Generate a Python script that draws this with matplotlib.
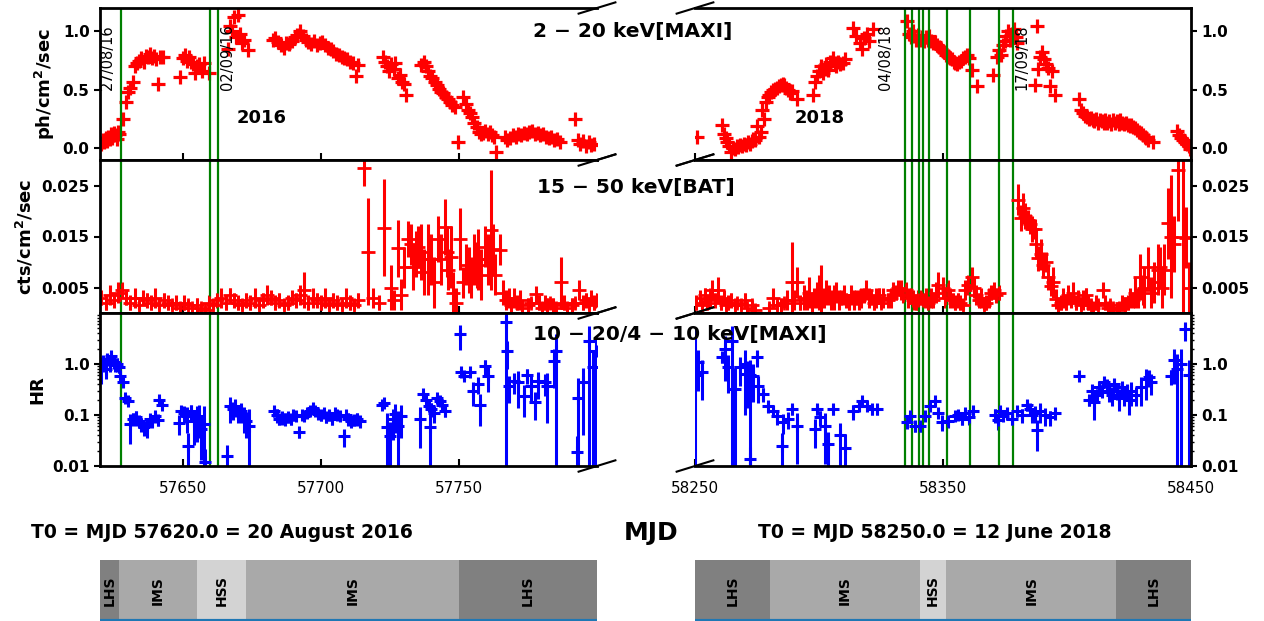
import numpy as np
import matplotlib.pyplot as plt

plt.rcParams['font.family'] = 'DejaVu Sans'
plt.rcParams['mathtext.default'] = 'regular'

T0_16 = 57620.0
T0_18 = 58250.0

# ---------- MAXI 2-20 keV flux (days since T0, ph/cm2/s) ----------
maxi16_t = [0.5, 1.0, 1.5, 2.0, 2.5, 3.0, 3.5, 4.0, 4.5, 5.0, 5.5, 6.0, 6.5, 7.0, 8.4, 9.4, 10.3, 11.0, 12.0, 12.7,
            13.5, 14.2, 15.0, 15.8, 16.5, 17.3, 18.0, 18.8, 19.5, 20.2, 21.0, 21.8, 22.9,
            29.0, 30.0, 30.8, 31.5, 32.3, 33.0, 33.8, 34.5, 35.3, 36.0, 36.8, 37.5, 39.4,
            46.5, 47.0, 47.8, 48.5, 49.2, 50.0, 50.8, 51.5, 52.3, 53.5,
            62.5, 63.5, 64.5, 65.5, 66.5, 67.5, 68.5, 69.5, 70.5, 71.5, 72.5, 73.5, 74.5, 75.5, 76.5, 77.5,
            78.5, 79.5, 80.5, 81.5, 82.5, 83.5, 84.5, 85.5, 86.5, 87.5, 88.5, 89.5, 90.5, 91.5, 92.7, 93.5,
            102.5, 103.3, 104.0, 104.8, 105.5, 106.3, 107.0, 107.8, 108.5, 109.3, 110.0, 111.0,
            116.4, 117.2, 118.0, 118.8, 119.6, 120.4, 121.2, 122.0, 122.8, 123.6, 124.4, 125.2, 126.0, 126.8,
            127.6, 128.4, 129.8, 131.6, 132.4, 133.2, 134.0, 134.8, 135.6, 136.4, 137.2, 138.0, 138.8, 139.6,
            140.4, 141.2, 142.0, 142.8, 143.6,
            146.5, 147.5, 148.5, 149.5, 150.5, 151.5, 152.5, 153.5, 154.5, 155.5, 156.5, 157.5, 158.5, 159.5,
            160.5, 161.5, 162.5, 163.5, 164.5, 165.5, 166.5,
            172.0, 173.0, 174.0, 175.0, 176.0, 177.0, 178.0, 179.0]
maxi16_f = [0.04, 0.07, 0.05, 0.09, 0.06, 0.10, 0.08, 0.12, 0.09, 0.13, 0.11, 0.08, 0.14, 0.12, 0.25, 0.40, 0.48, 0.52, 0.57, 0.70,
            0.73, 0.75, 0.77, 0.74, 0.79, 0.78, 0.81, 0.77, 0.79, 0.76, 0.55, 0.78, 0.78,
            0.61, 0.77, 0.80, 0.75, 0.78, 0.74, 0.72, 0.64, 0.70, 0.72, 0.66, 0.73, 0.64,
            0.85, 1.05, 1.00, 1.12, 0.95, 1.14, 0.98, 0.90, 0.93, 0.84,
            0.93, 0.94, 0.91, 0.88, 0.86, 0.90, 0.89, 0.92, 0.95, 0.97, 1.00, 0.96, 0.93, 0.91, 0.89, 0.92,
            0.88, 0.90, 0.91, 0.88, 0.86, 0.85, 0.83, 0.81, 0.80, 0.78, 0.77, 0.76, 0.74, 0.73, 0.62, 0.71,
            0.78, 0.74, 0.70, 0.66, 0.72, 0.68, 0.73, 0.60, 0.63, 0.57, 0.55, 0.46,
            0.71, 0.74, 0.70, 0.66, 0.62, 0.60, 0.57, 0.54, 0.51, 0.48, 0.47, 0.44, 0.42, 0.40,
            0.37, 0.35, 0.05, 0.44, 0.38, 0.33, 0.30, 0.27, 0.22, 0.18, 0.14, 0.12, 0.13, 0.15,
            0.12, 0.14, 0.11, 0.10, -0.03,
            0.10, 0.07, 0.09, 0.11, 0.10, 0.12, 0.11, 0.13, 0.12, 0.14, 0.15, 0.12, 0.13, 0.11,
            0.12, 0.10, 0.09, 0.10, 0.07, 0.08, 0.05,
            0.25, 0.07, 0.04, 0.06, 0.02, 0.05, 0.03, 0.04]

maxi18_t = [1.0, 10.9, 11.5, 12.3, 13.0, 13.8, 14.5, 15.3, 16.0, 16.8, 17.5, 18.3, 19.0, 19.8, 20.5, 21.3, 22.0,
            22.8, 23.5, 24.3, 25.0, 25.8, 26.5, 27.0, 27.8, 28.5, 29.3, 30.0, 30.8, 31.5, 32.3, 33.0, 33.8,
            34.5, 35.3, 36.0, 36.8, 37.5, 38.3, 39.0, 41.0,
            47.6, 48.4, 49.2, 50.0, 50.8, 51.5, 52.3, 53.0, 53.8, 54.5, 55.6, 56.3, 57.0, 57.8, 58.5, 59.7, 60.5,
            63.7, 65.0, 66.5, 67.3, 68.0, 69.4, 70.3, 71.8,
            85.5, 86.2, 87.0, 87.8, 88.5, 89.3, 90.0, 90.8, 91.5, 92.3, 93.0, 93.8, 94.5, 95.3, 96.0, 96.8,
            97.5, 98.3, 99.0, 99.8, 100.5, 101.3, 102.0, 102.8, 103.5, 104.3, 105.0, 105.8, 106.5, 107.3,
            108.0, 108.8, 109.5, 110.3, 111.7, 113.7,
            120.0, 121.8, 122.5, 123.3, 124.0, 124.8, 125.5, 126.3, 127.0, 127.8, 128.5, 129.3, 130.0,
            137.0, 137.9, 138.5, 139.3, 140.0, 140.8, 141.5, 142.3, 143.0, 144.0, 145.0,
            155.0, 155.8, 156.5, 157.3, 158.0, 158.8, 159.5, 160.3, 161.0, 161.8, 162.5, 163.3, 164.0, 164.8,
            165.5, 166.3, 167.0, 167.8, 168.5, 169.3, 170.0, 170.8, 171.5, 172.3, 173.0, 173.8, 174.5, 175.3,
            176.0, 176.8, 177.5, 178.3, 179.0, 179.8, 180.5, 181.3, 182.0, 182.8, 184.7,
            194.4, 195.2, 196.0, 196.8, 197.5, 198.3, 199.0, 199.7]
maxi18_f = [0.10, 0.20, 0.12, 0.09, 0.05, 0.02, -0.03, 0.00, -0.01, 0.02, 0.01, 0.03, 0.02, 0.04, 0.03, 0.05, 0.04,
            0.06, 0.08, 0.07, 0.19, 0.10, 0.14, 0.33, 0.25, 0.40, 0.44, 0.46, 0.48, 0.50, 0.51, 0.52, 0.53,
            0.54, 0.55, 0.54, 0.52, 0.50, 0.47, 0.49, 0.42,
            0.46, 0.57, 0.62, 0.66, 0.70, 0.64, 0.68, 0.72, 0.67, 0.74, 0.77, 0.73, 0.70, 0.74, 0.72, 0.73, 0.76,
            1.03, 0.96, 0.90, 0.85, 0.94, 0.98, 0.92, 1.02,
            1.09, 0.98, 0.95, 1.00, 0.96, 0.93, 0.97, 0.93, 0.95, 0.92, 0.95, 0.93, 0.96, 0.92, 0.90, 0.91,
            0.88, 0.87, 0.85, 0.83, 0.82, 0.80, 0.79, 0.77, 0.76, 0.74, 0.73, 0.72, 0.74, 0.75,
            0.77, 0.78, 0.80, 0.77, 0.67, 0.53,
            0.63, 0.78, 0.84, 0.80, 0.88, 0.92, 0.96, 1.00, 0.93, 0.98, 1.02, 0.95, 0.90,
            0.54, 1.05, 0.68, 0.78, 0.82, 0.76, 0.72, 0.69, 0.53, 0.66, 0.46,
            0.42, 0.33, 0.30, 0.28, 0.27, 0.25, 0.26, 0.24, 0.23, 0.25, 0.22, 0.24, 0.23, 0.22,
            0.24, 0.22, 0.23, 0.21, 0.24, 0.22, 0.23, 0.21, 0.24, 0.22, 0.21, 0.22, 0.20, 0.19,
            0.20, 0.18, 0.17, 0.16, 0.14, 0.13, 0.11, 0.10, 0.09, 0.07, 0.05,
            0.15, 0.11, 0.09, 0.07, 0.05, 0.04, 0.02, -0.01]

# ---------- BAT 15-50 keV rate (days since T0, cts/cm2/s, error) ----------
bat16_t = [0.5, 2.0, 3.5, 5.0, 6.5, 8.0, 9.5, 11.0, 12.5, 14.0, 15.5, 17.0, 18.5, 20.0, 21.5, 23.0, 24.5, 26.0,
           27.5, 29.0, 30.5, 32.0, 33.5, 35.0, 36.5, 38.0, 39.5, 41.0, 42.5, 44.0, 45.5, 47.0, 48.5, 50.0,
           51.5, 53.0, 54.5, 56.0, 57.5, 59.0, 60.5, 62.0, 63.5, 65.0, 66.5, 68.0, 69.5, 71.0, 72.5, 74.0,
           75.5, 77.0, 78.5, 80.0, 81.5, 83.0, 84.5, 86.0, 87.5, 89.0, 90.5, 92.0, 93.5,
           95.5, 97.0, 99.0, 101.0, 103.0,
           105.5, 106.5, 107.9, 109.0, 110.0, 111.5, 112.5, 113.5, 114.5, 115.2, 116.4, 117.5, 118.8, 120.0,
           121.0, 122.4, 123.5, 124.8, 125.5, 126.0, 127.0, 128.0, 129.0, 130.3, 131.5, 132.5, 133.5, 134.5,
           135.5, 136.5, 137.0, 138.0, 139.4, 140.5, 141.6, 142.5, 143.0, 144.8,
           146.0, 147.0, 148.0, 149.0, 150.0, 151.0, 152.0, 153.0, 155.0, 156.0, 158.0, 159.0, 160.0, 161.0,
           162.0, 163.0, 164.0, 165.0, 167.0, 168.0, 169.0, 171.0, 172.0, 173.5, 175.0, 176.0, 177.0, 178.0,
           179.0, 180.0]
bat16_r = [0.0030, 0.0020, 0.0035, 0.0025, 0.0040, 0.0045, 0.0030, 0.0020, 0.0030, 0.0015, 0.0030, 0.0025, 0.0020,
           0.0030, 0.0015, 0.0025, 0.0020, 0.0015, 0.0020, 0.0010, 0.0020, 0.0015, 0.0010, 0.0015, 0.0010, 0.0005,
           0.0020, 0.0015, 0.0025, 0.0030, 0.0020, 0.0035, 0.0025, 0.0020, 0.0015, 0.0025, 0.0020, 0.0030, 0.0015,
           0.0025, 0.0035, 0.0030, 0.0020, 0.0025, 0.0015, 0.0020, 0.0030, 0.0025, 0.0035, 0.0045, 0.0020, 0.0030,
           0.0025, 0.0020, 0.0030, 0.0015, 0.0025, 0.0020, 0.0015, 0.0030, 0.0020, 0.0015, 0.0025,
           0.0285, 0.0120, 0.0030, 0.0020, 0.0167,
           0.0050, 0.0025, 0.0127, 0.0036, 0.0090, 0.0145, 0.0135, 0.0090, 0.0115, 0.0130, 0.0120, 0.0080, 0.0105,
           0.0105, 0.0060, 0.0145, 0.0105, 0.0168, 0.0120, 0.0085, 0.0110, 0.0040, 0.0020, 0.0145, 0.0060, 0.0095,
           0.0085, 0.0070, 0.0105, 0.0095, 0.0105, 0.0075, 0.0130, 0.0105, 0.0163, 0.0125, 0.0075, 0.0124,
           0.0040, 0.0025, 0.0030, 0.0015, 0.0030, 0.0020, 0.0025, 0.0010, 0.0015, 0.0020, 0.0037, 0.0020, 0.0010,
           0.0020, 0.0015, 0.0020, 0.0015, 0.0010, 0.0060, 0.0020, 0.0010, 0.0015, 0.0020, 0.0045, 0.0020, 0.0025,
           0.0015, 0.0030, 0.0020, 0.0025]
bat16_e = [0.0015, 0.0015, 0.0020, 0.0015, 0.0020, 0.0015, 0.0015, 0.0015, 0.0020, 0.0010, 0.0015, 0.0015, 0.0015,
           0.0020, 0.0010, 0.0015, 0.0015, 0.0010, 0.0015, 0.0010, 0.0015, 0.0010, 0.0010, 0.0015, 0.0010, 0.0008,
           0.0015, 0.0010, 0.0015, 0.0020, 0.0015, 0.0015, 0.0015, 0.0015, 0.0010, 0.0015, 0.0015, 0.0020, 0.0010,
           0.0015, 0.0020, 0.0015, 0.0015, 0.0015, 0.0010, 0.0015, 0.0015, 0.0015, 0.0020, 0.0035, 0.0015, 0.0020,
           0.0015, 0.0015, 0.0020, 0.0010, 0.0015, 0.0015, 0.0010, 0.0020, 0.0015, 0.0010, 0.0015,
           0.0035, 0.0105, 0.0020, 0.0015, 0.0095,
           0.0045, 0.0020, 0.0056, 0.0030, 0.0040, 0.0035, 0.0040, 0.0045, 0.0045, 0.0040, 0.0055, 0.0045, 0.0070,
           0.0050, 0.0050, 0.0045, 0.0050, 0.0055, 0.0050, 0.0040, 0.0060, 0.0040, 0.0030, 0.0060, 0.0030, 0.0040,
           0.0045, 0.0040, 0.0050, 0.0045, 0.0060, 0.0050, 0.0040, 0.0050, 0.0118, 0.0050, 0.0040, 0.0030,
           0.0025, 0.0020, 0.0020, 0.0015, 0.0020, 0.0015, 0.0020, 0.0015, 0.0015, 0.0010, 0.0015, 0.0015, 0.0010,
           0.0015, 0.0015, 0.0010, 0.0015, 0.0010, 0.0050, 0.0015, 0.0010, 0.0015, 0.0010, 0.0020, 0.0015, 0.0015,
           0.0010, 0.0015, 0.0015, 0.0015]

bat18_t = [0.5, 2.0, 3.0, 4.0, 5.0, 6.0, 7.0, 8.0, 9.3, 10.5, 11.5, 12.5, 13.5, 14.5, 16.0, 17.0, 18.5, 20.0, 21.0,
           23.0, 24.0, 30.0, 31.5, 33.0, 34.5, 36.0, 37.0, 39.0, 40.0, 41.0, 42.5, 44.0, 45.0, 46.0, 47.0, 48.0,
           49.0, 50.0, 51.0, 52.0, 53.0, 54.0, 55.0, 56.0, 57.0, 58.0, 59.0, 60.0, 61.0, 62.0, 63.0, 64.0, 65.0,
           66.0, 67.0, 68.0, 69.0, 70.0, 71.0, 72.0, 73.0, 74.0, 75.0, 76.0, 78.0, 79.0, 80.0, 81.0, 82.0, 83.0,
           84.0, 85.0, 86.0, 87.0, 88.0, 89.0, 90.0, 91.0, 92.0, 93.0, 94.0, 95.0, 96.0, 97.0, 98.0, 100.0,
           101.0, 102.0, 103.0, 104.0, 105.0, 106.0, 107.0, 108.0, 109.0, 110.0, 111.7, 112.5, 113.5, 114.5,
           115.5, 116.5, 117.5, 118.5, 119.5, 120.5, 121.5, 122.5,
           130.4, 131.3, 132.3, 133.0, 134.3, 135.2, 136.0, 137.0, 137.6, 138.5, 139.4, 140.5, 141.7, 142.5,
           143.5, 144.5, 145.5,
           146.5, 147.5, 148.5, 149.5, 150.5, 151.5, 152.5, 153.5, 154.5, 155.5, 156.5, 157.5, 158.5, 159.5,
           160.5, 161.5, 162.5, 164.5, 165.5, 166.5, 167.5, 168.5, 170.0, 171.0, 172.0, 173.5, 174.5, 175.5,
           176.5, 177.5, 178.5,
           179.4, 180.5, 181.2, 182.5, 183.9, 185.0, 186.6, 187.5, 188.5, 189.2, 190.6, 191.9, 193.3, 194.6,
           196.6, 198.0, 199.0]
bat18_r = [0.0020, 0.0030, 0.0015, 0.0035, 0.0020, 0.0030, 0.0045, 0.0025, 0.0045, 0.0020, 0.0030, 0.0015, 0.0020,
           0.0025, 0.0015, 0.0020, 0.0015, 0.0025, 0.0010, 0.0015, 0.0005, 0.0010, 0.0030, 0.0015, 0.0015, 0.0020,
           0.0025, 0.0060, 0.0025, 0.0060, 0.0020, 0.0030, 0.0025, 0.0040, 0.0020, 0.0030, 0.0035, 0.0040, 0.0045,
           0.0030, 0.0040, 0.0035, 0.0025, 0.0030, 0.0040, 0.0025, 0.0030, 0.0035, 0.0025, 0.0020, 0.0035, 0.0025,
           0.0030, 0.0025, 0.0030, 0.0035, 0.0045, 0.0030, 0.0030, 0.0020, 0.0030, 0.0035, 0.0020, 0.0030, 0.0025,
           0.0030, 0.0045, 0.0040, 0.0050, 0.0045, 0.0035, 0.0045, 0.0030, 0.0035, 0.0025, 0.0020, 0.0025, 0.0030,
           0.0025, 0.0030, 0.0020, 0.0030, 0.0025, 0.0040, 0.0055, 0.0050, 0.0030, 0.0045, 0.0030, 0.0025, 0.0020,
           0.0025, 0.0020, 0.0015, 0.0045, 0.0055, 0.0070, 0.0050, 0.0035, 0.0025, 0.0030, 0.0015, 0.0020, 0.0030,
           0.0040, 0.0045, 0.0035, 0.0040,
           0.0222, 0.0186, 0.0205, 0.0190, 0.0182, 0.0175, 0.0165, 0.0165, 0.0135, 0.0107, 0.0115, 0.0095, 0.0100,
           0.0070, 0.0053, 0.0060, 0.0027,
           0.0015, 0.0020, 0.0030, 0.0020, 0.0035, 0.0025, 0.0040, 0.0020, 0.0030, 0.0015, 0.0025, 0.0035, 0.0020,
           0.0015, 0.0010, 0.0020, 0.0015, 0.0045, 0.0020, 0.0010, 0.0015, 0.0010, 0.0005, 0.0010, 0.0020, 0.0015,
           0.0020, 0.0030, 0.0025, 0.0040, 0.0030,
           0.0070, 0.0045, 0.0050, 0.0090, 0.0040, 0.0060, 0.0085, 0.0090, 0.0050, 0.0085, 0.0176, 0.0150, 0.0135,
           0.0280, 0.0150, 0.0148, 0.0050]
bat18_e = [0.0015, 0.0015, 0.0010, 0.0015, 0.0015, 0.0020, 0.0020, 0.0015, 0.0025, 0.0015, 0.0015, 0.0010, 0.0015,
           0.0015, 0.0010, 0.0010, 0.0010, 0.0015, 0.0010, 0.0010, 0.0008, 0.0010, 0.0020, 0.0010, 0.0015, 0.0010,
           0.0020, 0.0080, 0.0020, 0.0030, 0.0015, 0.0025, 0.0020, 0.0030, 0.0020, 0.0020, 0.0025, 0.0035, 0.0050,
           0.0020, 0.0025, 0.0020, 0.0020, 0.0025, 0.0020, 0.0020, 0.0015, 0.0020, 0.0015, 0.0015, 0.0020, 0.0020,
           0.0015, 0.0020, 0.0020, 0.0015, 0.0020, 0.0020, 0.0015, 0.0015, 0.0020, 0.0015, 0.0010, 0.0020, 0.0015,
           0.0020, 0.0015, 0.0015, 0.0015, 0.0020, 0.0015, 0.0015, 0.0020, 0.0015, 0.0020, 0.0015, 0.0020, 0.0015,
           0.0015, 0.0020, 0.0015, 0.0020, 0.0015, 0.0020, 0.0025, 0.0020, 0.0020, 0.0020, 0.0020, 0.0015, 0.0015,
           0.0015, 0.0015, 0.0010, 0.0020, 0.0020, 0.0020, 0.0020, 0.0020, 0.0015, 0.0020, 0.0010, 0.0015, 0.0020,
           0.0015, 0.0015, 0.0015, 0.0015,
           0.0030, 0.0025, 0.0030, 0.0025, 0.0020, 0.0020, 0.0025, 0.0020, 0.0030, 0.0025, 0.0030, 0.0025, 0.0020,
           0.0025, 0.0020, 0.0030, 0.0020,
           0.0015, 0.0015, 0.0020, 0.0015, 0.0020, 0.0015, 0.0020, 0.0015, 0.0015, 0.0010, 0.0020, 0.0015, 0.0015,
           0.0010, 0.0010, 0.0015, 0.0010, 0.0015, 0.0015, 0.0010, 0.0010, 0.0010, 0.0010, 0.0010, 0.0015, 0.0015,
           0.0015, 0.0020, 0.0015, 0.0030, 0.0020,
           0.0045, 0.0030, 0.0040, 0.0040, 0.0030, 0.0040, 0.0050, 0.0040, 0.0040, 0.0050, 0.0070, 0.0120, 0.0055,
           0.0100, 0.0150, 0.0060, 0.0050]

# ---------- hardness ratio (10-20 keV / 4-10 keV) ----------
hr16_t = [0.5, 1.2, 2.0, 2.7, 3.5, 4.0, 5.0, 5.5, 6.2, 6.8, 7.3, 8.4, 9.0, 10.0,
          11.0, 12.0, 13.0, 14.0, 15.0, 16.0, 17.0, 18.0, 19.0, 20.0, 21.0, 21.5, 22.5,
          28.5, 29.5, 30.5, 31.5, 32.0, 33.0, 34.0, 35.0, 36.0, 36.5, 37.5, 38.0,
          46.0, 47.0, 48.0, 49.0, 50.0, 51.0, 52.0, 53.0, 54.0,
          63.0, 64.0, 65.0, 66.0, 67.0, 68.0, 69.0, 70.0, 71.0, 72.0, 73.0, 74.0, 75.0, 76.0, 77.0, 78.0,
          79.0, 80.0, 81.0, 82.0, 83.0, 84.0, 85.0, 86.0, 87.0, 88.5, 89.0, 90.0, 91.0, 92.0, 93.0, 94.0,
          102.0, 103.0, 104.0, 105.0, 106.0, 107.0, 108.0, 109.0,
          115.8, 117.0, 118.0, 119.0, 119.5, 120.0, 121.0, 122.0, 123.0, 124.0, 125.0,
          130.3, 130.8, 132.0, 134.0, 135.0, 137.0, 137.5, 139.5, 140.5,
          147.0, 147.5, 148.0, 150.0, 151.5, 153.5, 154.5, 156.0, 157.5, 158.5, 161.0, 162.0, 164.5, 165.0,
          172.7, 173.0, 175.0, 177.0, 178.5, 179.5]
hr16_v = [0.90, 1.10, 0.80, 1.25, 1.00, 1.43, 1.10, 0.95, 1.00, 0.87, 0.58, 0.44, 0.22, 0.19,
          0.067, 0.085, 0.091, 0.075, 0.067, 0.058, 0.060, 0.083, 0.075, 0.095, 0.080, 0.20, 0.16,
          0.070, 0.12, 0.11, 0.095, 0.025, 0.12, 0.076, 0.090, 0.095, 0.053, 0.067, 0.012,
          0.016, 0.15, 0.13, 0.15, 0.11, 0.12, 0.095, 0.075, 0.061,
          0.12, 0.10, 0.083, 0.090, 0.085, 0.090, 0.083, 0.10, 0.095, 0.046, 0.10, 0.095, 0.11, 0.12, 0.14, 0.12,
          0.105, 0.10, 0.11, 0.09, 0.10, 0.085, 0.11, 0.10, 0.095, 0.039, 0.10, 0.085, 0.075, 0.08, 0.085, 0.075,
          0.16, 0.17, 0.058, 0.039, 0.083, 0.105, 0.061, 0.095,
          0.083, 0.26, 0.20, 0.15, 0.058, 0.13, 0.11, 0.22, 0.19, 0.16, 0.12,
          3.9, 0.70, 0.58, 0.70, 0.30, 0.41, 0.16, 0.91, 0.58,
          6.6, 1.8, 0.37, 0.46, 0.44, 0.24, 0.60, 0.37, 0.18, 0.46, 0.44, 0.37, 1.14, 1.8,
          0.019, 0.22, 0.44, 2.8, 0.87, 1.8]
hr16_e = [0.50, 0.40, 0.30, 0.35, 0.30, 0.30, 0.30, 0.25, 0.30, 0.20, 0.10, 0.08, 0.04, 0.03,
          0.040, 0.025, 0.030, 0.020, 0.020, 0.020, 0.025, 0.020, 0.020, 0.025, 0.020, 0.04, 0.03,
          0.030, 0.03, 0.04, 0.050, 0.020, 0.04, 0.050, 0.060, 0.060, 0.040, 0.080, 0.010,
          0.010, 0.08, 0.05, 0.06, 0.04, 0.05, 0.050, 0.040, 0.070,
          0.03, 0.03, 0.020, 0.025, 0.025, 0.020, 0.020, 0.025, 0.020, 0.010, 0.02, 0.020, 0.02, 0.025, 0.03, 0.025,
          0.020, 0.025, 0.02, 0.02, 0.025, 0.02, 0.02, 0.02, 0.02, 0.015, 0.02, 0.025, 0.02, 0.02, 0.025, 0.02,
          0.02, 0.02, 0.050, 0.035, 0.050, 0.060, 0.060, 0.060,
          0.060, 0.04, 0.03, 0.03, 0.050, 0.04, 0.04, 0.03, 0.03, 0.03, 0.03,
          2.0, 0.10, 0.10, 0.10, 0.15, 0.15, 0.10, 0.30, 0.30,
          6.6, 1.0, 0.20, 0.20, 0.30, 0.15, 0.20, 0.20, 0.10, 0.25, 0.20, 0.30, 0.80, 2.0,
          0.019, 0.30, 0.40, 2.8, 0.90, 1.8]

hr18_t = [0.0, 1.3, 2.7, 10.8, 12.1, 13.4, 14.8, 16.1, 18.1, 20.2, 20.8, 22.0, 22.2, 23.5, 24.9, 25.5, 27.6, 29.6,
          31.6, 32.9, 34.9, 35.6, 37.6, 39.0, 41.0,
          48.4, 49.1, 50.4, 52.4, 53.8, 55.8, 58.5, 60.5,
          63.8, 66.0, 67.2, 69.2, 71.2, 73.2,
          85.3, 86.7, 88.7, 90.7, 92.7, 94.8, 96.8, 98.1, 99.5, 102.2, 104.8, 106.0, 107.5, 109.0, 110.5, 112.0,
          121.0, 122.0, 123.0, 124.0, 126.0, 128.0, 130.0, 132.0, 134.0, 135.0, 136.0, 137.0, 138.0, 139.0,
          141.0, 143.0, 145.0,
          155.0, 159.0, 160.0, 161.0, 162.0, 163.0, 164.0, 165.0, 166.0, 167.0, 168.0, 169.0, 170.0, 171.0,
          172.0, 173.0, 174.0, 175.0, 176.0, 178.0, 180.0, 182.0, 183.0, 184.0,
          192.0, 193.0, 194.5, 196.0, 197.5, 199.0]
hr18_v = [0.60, 1.10, 0.70, 1.37, 1.97, 0.87, 2.8, 0.32, 0.87, 1.00, 0.64, 0.60, 0.014, 0.58, 1.37, 0.37, 0.26, 0.15,
          0.12, 0.095, 0.025, 0.073, 0.083, 0.13, 0.061,
          0.053, 0.13, 0.090, 0.061, 0.027, 0.13, 0.040, 0.023,
          0.12, 0.15, 0.19, 0.15, 0.13, 0.13,
          0.073, 0.095, 0.061, 0.061, 0.095, 0.15, 0.19, 0.11, 0.073, 0.076, 0.095, 0.10, 0.085, 0.11, 0.09, 0.12,
          0.10, 0.08, 0.12, 0.095, 0.11, 0.085, 0.12, 0.10, 0.16, 0.13, 0.10, 0.11, 0.05, 0.12,
          0.10, 0.09, 0.11,
          0.58, 0.20, 0.30, 0.18, 0.25, 0.35, 0.30, 0.45, 0.38, 0.28, 0.25, 0.40, 0.30, 0.22,
          0.35, 0.25, 0.30, 0.20, 0.30, 0.25, 0.35, 0.50, 0.55, 0.45,
          0.58, 1.20, 0.80, 1.00, 4.8, 0.60]
hr18_e = [4.30, 0.80, 0.50, 0.30, 1.50, 0.60, 2.8, 0.50, 0.50, 0.90, 0.50, 0.60, 0.010, 0.40, 0.50, 0.20, 0.08, 0.04,
          0.03, 0.030, 0.020, 0.030, 0.030, 0.03, 0.050,
          0.030, 0.03, 0.030, 0.050, 0.020, 0.03, 0.030, 0.020,
          0.04, 0.03, 0.04, 0.03, 0.03, 0.03,
          0.020, 0.020, 0.015, 0.015, 0.020, 0.03, 0.03, 0.02, 0.025, 0.020, 0.020, 0.02, 0.020, 0.02, 0.025, 0.03,
          0.03, 0.03, 0.03, 0.020, 0.03, 0.020, 0.03, 0.03, 0.04, 0.03, 0.03, 0.04, 0.03, 0.05,
          0.04, 0.03, 0.03,
          0.05, 0.05, 0.10, 0.10, 0.08, 0.10, 0.08, 0.10, 0.10, 0.10, 0.10, 0.10, 0.10, 0.10,
          0.10, 0.10, 0.10, 0.10, 0.15, 0.10, 0.20, 0.30, 0.20, 0.20,
          0.20, 0.80, 0.80, 1.00, 2.0, 0.60]

# ---------- marked dates and spectral states ----------
lines16 = [57627.7, 57659.8, 57662.7]
lines18 = [58334.7, 58337.4, 58340.5, 58342.1, 58344.4, 58351.6, 58361.0, 58372.7, 58378.4]
dates16 = ['27/08/16', '02/09/16']
dates18 = ['04/08/18', '17/09/18']
states16 = ['LHS', 'IMS', 'HSS', 'IMS', 'LHS']
edges16 = [57620.0, 57626.9, 57655.1, 57672.9, 57750.0, 57800.0]
states18 = ['LHS', 'IMS', 'HSS', 'IMS', 'LHS']
edges18 = [58250.0, 58280.3, 58340.8, 58351.3, 58419.9, 58450.0]
state_col = {'LHS': '#808080', 'IMS': '#a9a9a9', 'HSS': '#d3d3d3'}

fig = plt.figure(figsize=(12.64, 6.21), dpi=100)
W, H = 1264.0, 621.0


def box(x0, y0, x1, y1):
    return [x0 / W, 1 - y1 / H, (x1 - x0) / W, (y1 - y0) / H]


rows = [(8, 160), (160, 313), (313, 466)]
axL = [fig.add_axes(box(100, r0, 597, r1)) for r0, r1 in rows]
axR = [fig.add_axes(box(695, r0, 1191, r1)) for r0, r1 in rows]

mk = dict(ls='none', marker='+', ms=9.5, mew=2.3)
for ax, t0, t, f in [(axL[0], T0_16, maxi16_t, maxi16_f), (axR[0], T0_18, maxi18_t, maxi18_f)]:
    ax.plot(np.array(t) + t0, f, color='red', **mk)

for ax, t0, t, r, e in [(axL[1], T0_16, bat16_t, bat16_r, bat16_e), (axR[1], T0_18, bat18_t, bat18_r, bat18_e)]:
    ax.errorbar(np.array(t) + t0, r, yerr=e, fmt='+', color='red', ms=10, mew=2, elinewidth=2.2)

for ax, t0, t, v, e in [(axL[2], T0_16, hr16_t, hr16_v, hr16_e), (axR[2], T0_18, hr18_t, hr18_v, hr18_e)]:
    ax.set_yscale('log')
    ax.errorbar(np.array(t) + t0, v, yerr=e, fmt='+', color='blue', ms=8, mew=2.2, elinewidth=2.2)

for ax in axL + axR:
    for x in (lines16 if ax in axL else lines18):
        ax.axvline(x, color='green', lw=1.6)

ylims = [(-0.1, 1.2), (0, 0.03), (0.01, 10)]
yticks = [[0.0, 0.5, 1.0], [0.005, 0.015, 0.025], [0.01, 0.1, 1.0]]
ylabs = [['0.0', '0.5', '1.0'], ['0.005', '0.015', '0.025'], ['0.01', '0.1', '1.0']]
d = 0.037
for i in range(3):
    for ax, side in [(axL[i], 'left'), (axR[i], 'right')]:
        ax.set_ylim(*ylims[i])
        ax.set_yticks(yticks[i])
        ax.set_yticklabels(ylabs[i])
        for s in ax.spines.values():
            s.set_linewidth(2)
        ax.tick_params(axis='y', which='major', direction='out', length=4, width=1.5,
                       labelsize=11, left=(side == 'left'), right=(side == 'right'),
                       labelleft=(side == 'left'), labelright=(side == 'right'))
        ax.tick_params(axis='y', which='minor', direction='out', length=2, width=1,
                       left=(side == 'left'), right=(side == 'right'))
        ax.tick_params(axis='x', direction='in', length=5, width=1.5, labelsize=11, pad=11,
                       labelbottom=(i == 2))
        for lab in ax.get_yticklabels():
            lab.set_fontweight('bold')
    axL[i].set_xlim(57620, 57800)
    axR[i].set_xlim(58250, 58450)
    axL[i].set_xticks([57650, 57700, 57750])
    axR[i].set_xticks([58250, 58350, 58450])
    axL[i].spines['right'].set_visible(False)
    axR[i].spines['left'].set_visible(False)
    kw = dict(color='k', lw=1.5, clip_on=False)
    axL[i].plot((1 - d, 1 + d), (-d, d), transform=axL[i].transAxes, **kw)
    axL[i].plot((1 - d, 1 + d), (1 - d, 1 + d), transform=axL[i].transAxes, **kw)
    axR[i].plot((-d, d), (-d, d), transform=axR[i].transAxes, **kw)
    axR[i].plot((-d, d), (1 - d, 1 + d), transform=axR[i].transAxes, **kw)

axL[0].set_ylabel('ph/cm$^2$/sec', fontsize=13, fontweight='bold')
axL[1].set_ylabel('cts/cm$^2$/sec', fontsize=13, fontweight='bold')
axL[2].set_ylabel('HR', fontsize=13, fontweight='bold')

# band labels and year labels
fig.text(533 / W, 1 - 32 / H, '2 \u2212 20 keV[MAXI]', fontsize=14.5, fontweight='bold', va='center')
fig.text(537 / W, 1 - 187 / H, '15 \u2212 50 keV[BAT]', fontsize=14.5, fontweight='bold', va='center')
fig.text(533 / W, 1 - 335 / H, '10 \u2212 20/4 \u2212 10 keV[MAXI]', fontsize=14.5, fontweight='bold', va='center')
fig.text(262 / W, 1 - 118 / H, '2016', fontsize=13, fontweight='bold', ha='center', va='center')
fig.text(820 / W, 1 - 118 / H, '2018', fontsize=13, fontweight='bold', ha='center', va='center')

for x, s in [(107, dates16[0]), (228, dates16[1]), (885, dates18[0]), (1022, dates18[1])]:
    fig.text(x / W, 1 - 24 / H, s, rotation=90, fontsize=10.5, ha='center', va='top')

fig.text(222 / W, 1 - 533 / H, 'T0 = MJD 57620.0 = 20 August 2016', fontsize=13.5, fontweight='bold',
         ha='center', va='center')
fig.text(935 / W, 1 - 533 / H, 'T0 = MJD 58250.0 = 12 June 2018', fontsize=13.5, fontweight='bold',
         ha='center', va='center')
fig.text(651 / W, 1 - 533 / H, 'MJD', fontsize=18, fontweight='bold', ha='center', va='center')

# spectral state strips
for (x0, x1), states, edges in [((100, 597), states16, edges16), ((695, 1191), states18, edges18)]:
    sax = fig.add_axes(box(x0, 560, x1, 621))
    for k, st in enumerate(states):
        sax.axvspan(edges[k], edges[k + 1], color=state_col[st], lw=0)
        sax.text((edges[k] + edges[k + 1]) / 2, 0.5, st, rotation=90, fontsize=10, fontweight='bold',
                 ha='center', va='center')
    sax.axhline(0, color='#1f77b4', lw=3)
    sax.set_xlim(edges[0], edges[-1])
    sax.set_ylim(0, 1)
    sax.axis('off')

fig.savefig('out.png', dpi=100)
